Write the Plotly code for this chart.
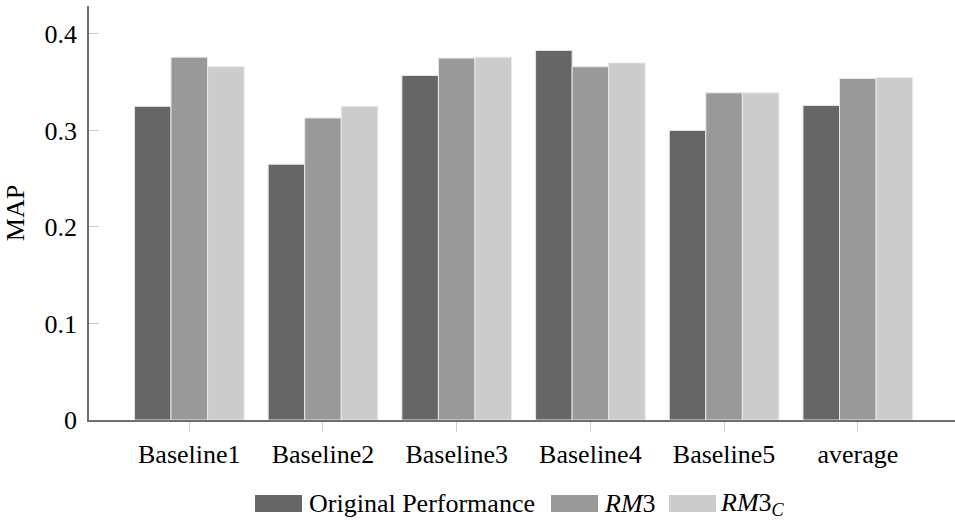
import plotly.graph_objects as go

categories = ["Baseline1", "Baseline2", "Baseline3", "Baseline4", "Baseline5", "average"]
original = [0.325, 0.265, 0.357, 0.383, 0.300, 0.326]
rm3 = [0.376, 0.313, 0.375, 0.366, 0.339, 0.354]
rm3c = [0.366, 0.325, 0.376, 0.370, 0.339, 0.355]
series_names = ["Original Performance", "<i>RM</i>3", "<i>RM</i>3<sub><i>C</i></sub>"]
colors = ["#666666", "#999999", "#cccccc"]
y_ticks = [0, 0.1, 0.2, 0.3, 0.4]
y_tick_text = ["0", "0.1", "0.2", "0.3", "0.4"]

FONT = "Liberation Serif, Times New Roman, serif"
FS = 26

fig = go.Figure()
for name, vals, col in zip(series_names, [original, rm3, rm3c], colors):
    fig.add_trace(go.Bar(x=categories, y=vals, name=name, marker_color=col,
                         marker_line_color="#e8e8e8", marker_line_width=1,
                         showlegend=False))

# manual legend (rectangular swatches like the reference)
legend_swatch_x = [255, 551, 669]
legend_text_x = [307, 602, 718]
W, H = 955, 520
shapes = []
annotations = []
for sx, tx, name, col in zip(legend_swatch_x, legend_text_x, series_names, colors):
    shapes.append(dict(type="rect", xref="paper", yref="paper",
                       x0=(sx - 89) / 866, x1=(sx + 47 - 89) / 866,
                       y0=(420 - 512) / 414, y1=(420 - 495) / 414,
                       fillcolor=col, line=dict(width=0)))
    annotations.append(dict(text=name, xref="paper", yref="paper",
                            x=(tx - 89) / 866, y=(420 - 503.5) / 414,
                            xanchor="left", yanchor="middle", showarrow=False,
                            font=dict(family=FONT, size=FS, color="black")))

fig.update_layout(
    width=W, height=H,
    margin=dict(l=89, r=0, t=6, b=100),
    paper_bgcolor="white", plot_bgcolor="white",
    barmode="group", bargap=0.18, bargroupgap=0,
    font=dict(family=FONT, size=FS, color="black"),
    shapes=shapes, annotations=annotations,
    xaxis=dict(range=[-0.75, 5.727], showline=True, linecolor="#6e6e6e", linewidth=1.5,
               ticks="outside", ticklen=10, tickcolor="#cccccc", tickwidth=1,
               showgrid=False, zeroline=False, tickfont=dict(size=FS)),
    yaxis=dict(range=[0, 0.429], showline=True, linecolor="#6e6e6e", linewidth=1.5,
               ticks="inside", ticklen=10, tickcolor="#cccccc", tickwidth=1,
               tickvals=y_ticks, ticktext=y_tick_text,
               showgrid=False, zeroline=False, tickfont=dict(size=FS),
               ticklabelstandoff=5,
               title=dict(text="MAP", standoff=12, font=dict(size=FS))),
)

fig.write_html("out.html")
